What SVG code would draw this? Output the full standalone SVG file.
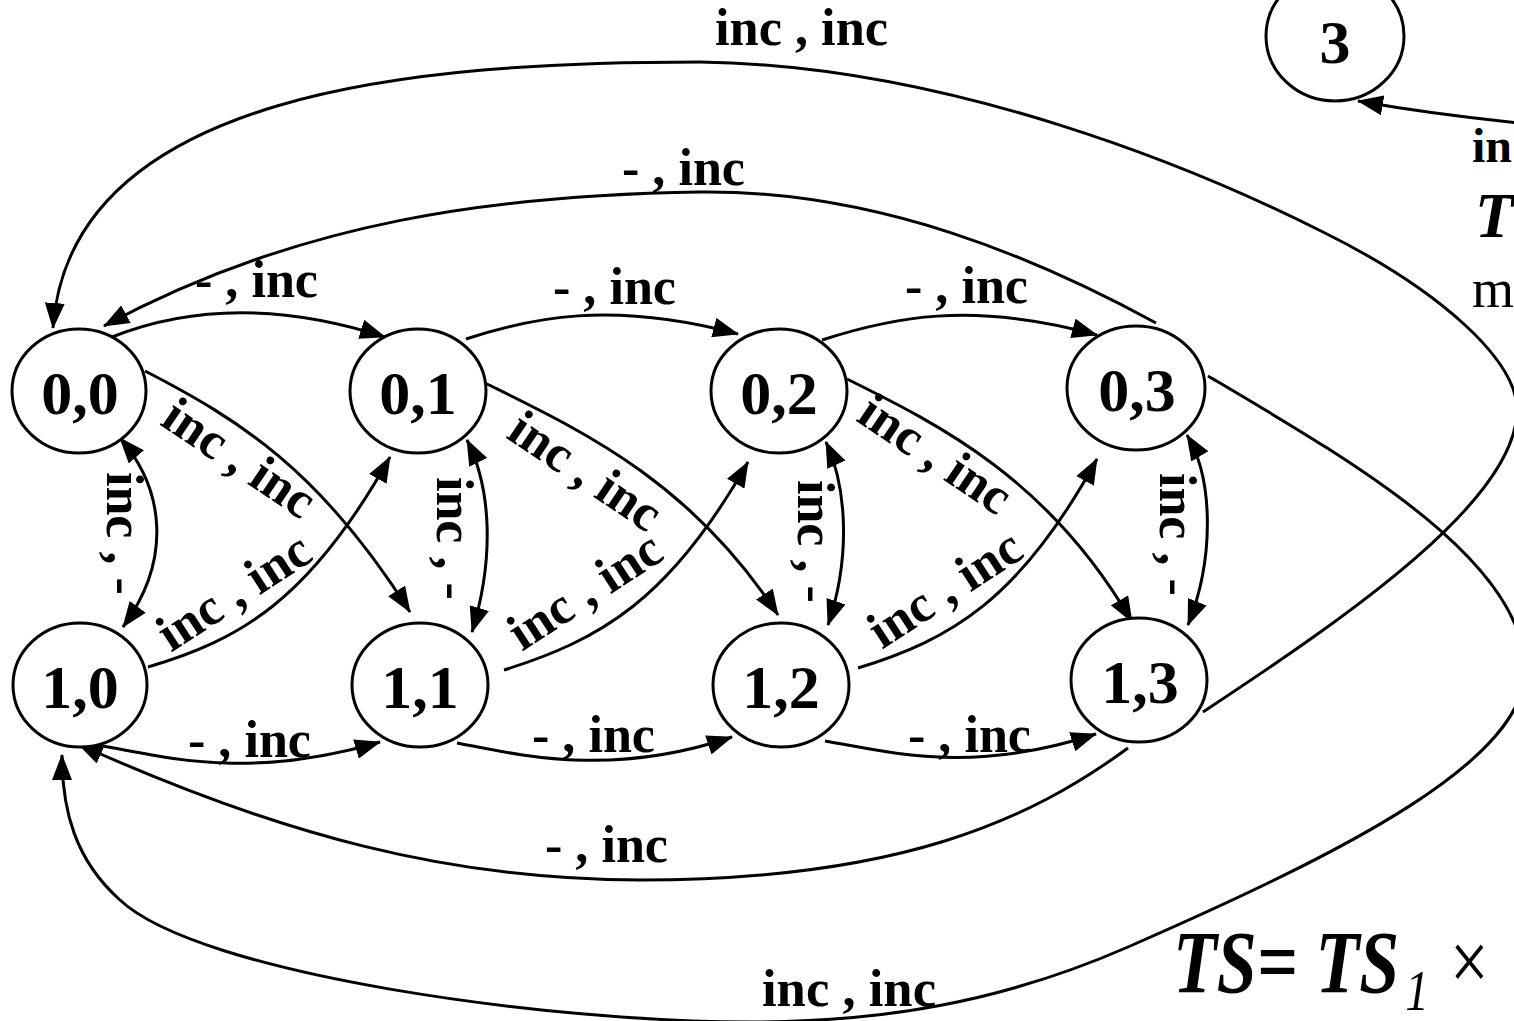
<svg xmlns="http://www.w3.org/2000/svg" width="1514" height="1021" viewBox="0 0 1514 1021">
<defs>
<style>
.n{fill:#fff;stroke:#000;stroke-width:3}
.nt{font-family:"Liberation Serif","Times New Roman",serif;font-weight:bold;font-size:62px;text-anchor:middle;fill:#000}
.e{fill:none;stroke:#000;stroke-width:3}
.l{font-family:"Liberation Serif","Times New Roman",serif;font-weight:bold;font-size:52px;fill:#000}
.m{text-anchor:middle}
</style>
<marker id="ah" viewBox="0 0 26 20" refX="25" refY="10" markerWidth="26" markerHeight="20" orient="auto" markerUnits="userSpaceOnUse"><path d="M0,0 L26,10 L0,20 z" fill="#000"/></marker>
<marker id="as" viewBox="0 0 26 20" refX="1" refY="10" markerWidth="26" markerHeight="20" orient="auto" markerUnits="userSpaceOnUse"><path d="M26,0 L0,10 L26,20 z" fill="#000"/></marker>
</defs>
<rect width="1514" height="1021" fill="#fff"/>
<g id="connectors">
<path class="e" marker-end="url(#ah)" d="M112,337 C180,310 270,300 385,337"/>
<path class="e" marker-end="url(#ah)" d="M466,339 C530,318 610,300 738,334"/>
<path class="e" marker-end="url(#ah)" d="M822,340 C890,318 970,300 1097,335"/>
<path class="e" marker-end="url(#ah)" d="M103,746 C170,758 250,780 380,742"/>
<path class="e" marker-end="url(#ah)" d="M457,743 C520,755 610,778 732,737"/>
<path class="e" marker-end="url(#ah)" d="M825,741 C890,752 970,775 1096,734"/>
<path class="e" marker-start="url(#as)" marker-end="url(#ah)" d="M120,438 C165,490 172,560 123,627"/>
<path class="e" marker-start="url(#as)" marker-end="url(#ah)" d="M467,440 C492,490 494,560 472,632"/>
<path class="e" marker-start="url(#as)" marker-end="url(#ah)" d="M826,442 C848,490 850,560 828,625"/>
<path class="e" marker-start="url(#as)" marker-end="url(#ah)" d="M1187,435 C1214,480 1214,560 1188,625"/>
<path class="e" marker-end="url(#ah)" d="M145,371 C240,420 320,470 410,612"/>
<path class="e" marker-end="url(#ah)" d="M148,667 C240,640 310,600 390,457"/>
<path class="e" marker-end="url(#ah)" d="M485,383 C580,430 690,480 778,615"/>
<path class="e" marker-end="url(#ah)" d="M504,670 C600,640 670,600 748,462"/>
<path class="e" marker-end="url(#ah)" d="M847,379 C940,425 1050,480 1132,622"/>
<path class="e" marker-end="url(#ah)" d="M858,668 C950,640 1020,600 1097,459"/>
<path class="e" marker-end="url(#ah)" d="M1156,323 C1040,260 880,190 700,192 C500,195 300,220 104,326"/>
<path class="e" marker-end="url(#ah)" d="M1203,712 C1350,615 1517,500 1517,410 C1517,360 1440,290 1323,232 C1200,170 950,65 700,62 C420,62 70,90 53,328"/>
<path class="e" marker-end="url(#ah)" d="M1128,748 C1030,820 900,880 640,880 C450,880 280,835 78,744"/>
<path class="e" marker-end="url(#ah)" d="M1208,376 C1350,460 1525,560 1525,670 C1525,760 1350,850 1128,947 C1000,1003 880,1022 750,1022 C550,1022 200,975 120,900 C75,860 62,810 62,755"/>
<path class="e" marker-end="url(#ah)" d="M1520,123 C1470,118 1420,112 1358,101"/>
</g>
<g id="labels">
<text class="l" x="715" y="45" textLength="173" lengthAdjust="spacingAndGlyphs">inc , inc</text>
<text class="l" x="622" y="185" textLength="123" lengthAdjust="spacingAndGlyphs">- , inc</text>
<text class="l" x="195" y="297" textLength="123" lengthAdjust="spacingAndGlyphs">- , inc</text>
<text class="l" x="553" y="304" textLength="123" lengthAdjust="spacingAndGlyphs">- , inc</text>
<text class="l" x="905" y="303" textLength="123" lengthAdjust="spacingAndGlyphs">- , inc</text>
<text class="l" x="188" y="757" textLength="123" lengthAdjust="spacingAndGlyphs">- , inc</text>
<text class="l" x="532" y="752" textLength="123" lengthAdjust="spacingAndGlyphs">- , inc</text>
<text class="l" x="908" y="752" textLength="123" lengthAdjust="spacingAndGlyphs">- , inc</text>
<text class="l" x="545" y="862" textLength="123" lengthAdjust="spacingAndGlyphs">- , inc</text>
<text class="l" x="762" y="1006" textLength="174" lengthAdjust="spacingAndGlyphs">inc , inc</text>
<text class="l" transform="translate(107,472) rotate(90)">inc , -</text>
<text class="l" transform="translate(437,477) rotate(90)">inc , -</text>
<text class="l" transform="translate(798,480) rotate(90)">inc , -</text>
<text class="l" transform="translate(1160,473) rotate(90)">inc , -</text>
<text class="l m" transform="translate(230,472) rotate(34)">inc , inc</text>
<text class="l m" transform="translate(576,485) rotate(34)">inc , inc</text>
<text class="l m" transform="translate(926,468) rotate(34)">inc , inc</text>
<text class="l m" transform="translate(243,606) rotate(-33)">inc , inc</text>
<text class="l m" transform="translate(594,605) rotate(-33)">inc , inc</text>
<text class="l m" transform="translate(954,603) rotate(-33)">inc , inc</text>
<text class="l" x="1472" y="162" style="font-size:48px">in</text>
<text class="l" x="1475" y="237" style="font-size:63px;font-style:italic">T</text>
<text x="1472" y="307" style="font-family:'Liberation Serif',serif;font-size:54px">m</text>
<text transform="translate(1173,992) scale(0.815,1)" style="font-family:'Liberation Serif',serif;font-weight:bold;font-style:italic;font-size:88px">TS= TS<tspan x="285" dy="18" style="font-weight:normal;font-size:58px">1</tspan><tspan x="340" dy="-20" style="font-weight:normal;font-style:normal;font-size:84px">×</tspan></text>
</g>
<g id="n00"><ellipse class="n" cx="79" cy="391" rx="67" ry="62"/><text class="nt" x="80" y="414">0,0</text></g>
<g id="n01"><ellipse class="n" cx="418" cy="391" rx="68" ry="62"/><text class="nt" x="418" y="414">0,1</text></g>
<g id="n02"><ellipse class="n" cx="779" cy="391" rx="68" ry="62"/><text class="nt" x="779" y="414">0,2</text></g>
<g id="n03"><ellipse class="n" cx="1136" cy="388" rx="69" ry="62"/><text class="nt" x="1137" y="411">0,3</text></g>
<g id="n10"><ellipse class="n" cx="80" cy="685" rx="67" ry="62"/><text class="nt" x="80" y="708">1,0</text></g>
<g id="n11"><ellipse class="n" cx="420" cy="685" rx="68" ry="62"/><text class="nt" x="420" y="708">1,1</text></g>
<g id="n12"><ellipse class="n" cx="781" cy="685" rx="68" ry="62"/><text class="nt" x="781" y="708">1,2</text></g>
<g id="n13"><ellipse class="n" cx="1139" cy="680" rx="68" ry="62"/><text class="nt" x="1140" y="703">1,3</text></g>
<g id="n3"><ellipse class="n" cx="1335" cy="36" rx="69" ry="65"/><text class="nt" x="1335" y="63">3</text></g>
</svg>
